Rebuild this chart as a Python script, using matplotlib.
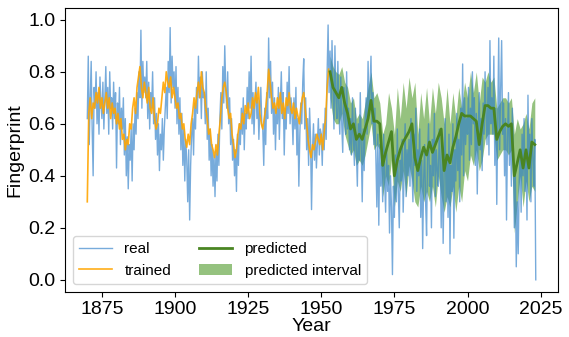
import numpy as np
import matplotlib
matplotlib.use("Agg")
import matplotlib.pyplot as plt

plt.rcParams['font.family'] = ['Liberation Sans', 'DejaVu Sans']

# Serie real (3 valores por año desde 1870)
real = [
    0.62, 0.86, 0.52, 0.70, 0.84, 0.58, 0.40, 0.74, 0.66, 0.80, 0.60, 0.72, 0.56, 0.78, 0.68, 0.62, 0.76, 0.58, 0.70, 0.82, 0.64, 0.74, 0.56, 0.80, 0.66, 0.70, 0.58, 0.76, 0.62, 0.72,
    0.43, 0.68, 0.60, 0.74, 0.52, 0.66, 0.58, 0.70, 0.48, 0.62, 0.40, 0.55, 0.35, 0.52, 0.46, 0.58, 0.38, 0.60, 0.50, 0.66, 0.56, 0.72, 0.62, 0.80, 0.70, 0.96, 0.66, 0.84, 0.72, 0.78,
    0.70, 0.84, 0.62, 0.76, 0.58, 0.72, 0.66, 0.80, 0.60, 0.70, 0.54, 0.64, 0.48, 0.60, 0.42, 0.56, 0.50, 0.62, 0.46, 0.58, 0.66, 0.74, 0.62, 0.84, 0.72, 0.97, 0.68, 0.86, 0.74, 0.80,
    0.66, 0.82, 0.60, 0.74, 0.56, 0.70, 0.50, 0.64, 0.44, 0.58, 0.38, 0.54, 0.46, 0.30, 0.50, 0.23, 0.44, 0.56, 0.62, 0.48, 0.68, 0.58, 0.74, 0.64, 0.86, 0.70, 0.78, 0.62, 0.80, 0.70,
    0.72, 0.60, 0.80, 0.54, 0.66, 0.46, 0.58, 0.40, 0.52, 0.36, 0.48, 0.32, 0.50, 0.38, 0.56, 0.44, 0.62, 0.72, 0.58, 0.82, 0.68, 0.90, 0.74, 0.66, 0.80, 0.60, 0.70, 0.52, 0.62, 0.46,
    0.54, 0.40, 0.50, 0.34, 0.56, 0.44, 0.60, 0.52, 0.66, 0.56, 0.70, 0.50, 0.64, 0.58, 0.74, 0.62, 0.80, 0.66, 0.86, 0.60, 0.72, 0.56, 0.68, 0.76, 0.62, 0.70, 0.54, 0.66, 0.74, 0.60,
    0.58, 0.44, 0.66, 0.52, 0.72, 0.62, 0.93, 0.70, 0.84, 0.64, 0.76, 0.56, 0.70, 0.50, 0.66, 0.60, 0.74, 0.54, 0.68, 0.80, 0.62, 0.72, 0.48, 0.66, 0.58, 0.76, 0.64, 0.82, 0.60, 0.70,
    0.64, 0.52, 0.70, 0.58, 0.74, 0.48, 0.62, 0.36, 0.56, 0.68, 0.60, 0.76, 0.85, 0.58, 0.70, 0.50, 0.62, 0.44, 0.66, 0.54, 0.27, 0.50, 0.60, 0.46, 0.56, 0.43, 0.52, 0.62, 0.48, 0.58,
    0.56, 0.44, 0.60, 0.50, 0.66, 0.54, 0.80, 0.98, 0.72, 0.88, 0.66, 0.92, 0.74, 0.58, 0.90, 0.70, 0.62, 0.84, 0.66, 0.56, 0.78, 0.60, 0.49, 0.74, 0.64, 0.56, 0.80, 0.58, 0.66, 0.50,
    0.62, 0.48, 0.70, 0.54, 0.44, 0.66, 0.50, 0.36, 0.60, 0.46, 0.72, 0.52, 0.30, 0.58, 0.42, 0.62, 0.70, 0.56, 0.84, 0.64, 0.74, 0.86, 0.60, 0.72, 0.52, 0.66, 0.48, 0.28, 0.56, 0.21,
    0.52, 0.36, 0.46, 0.30, 0.56, 0.38, 0.26, 0.50, 0.34, 0.44, 0.18, 0.40, 0.28, 0.02, 0.36, 0.24, 0.48, 0.30, 0.58, 0.34, 0.20, 0.46, 0.38, 0.54, 0.26, 0.42, 0.60, 0.32, 0.50, 0.40,
    0.54, 0.36, 0.62, 0.42, 0.30, 0.56, 0.44, 0.66, 0.34, 0.50, 0.40, 0.58, 0.24, 0.46, 0.12, 0.38, 0.52, 0.30, 0.17, 0.48, 0.60, 0.36, 0.44, 0.20, 0.54, 0.40, 0.64, 0.32, 0.50, 0.42,
    0.36, 0.58, 0.46, 0.20, 0.52, 0.14, 0.40, 0.62, 0.30, 0.48, 0.24, 0.56, 0.10, 0.44, 0.34, 0.60, 0.16, 0.50, 0.38, 0.64, 0.42, 0.54, 0.30, 0.66, 0.48, 0.83, 0.40, 0.70, 0.52, 0.62,
    0.56, 0.74, 0.46, 0.66, 0.52, 0.80, 0.60, 0.70, 0.44, 0.64, 0.33, 0.58, 0.72, 0.50, 0.62, 0.42, 0.68, 0.56, 0.80, 0.64, 0.52, 0.74, 0.48, 0.92, 0.60, 0.70, 0.56, 0.86, 0.44, 0.66,
    0.29, 0.62, 0.93, 0.50, 0.74, 0.92, 0.56, 0.68, 0.40, 0.62, 0.23, 0.54, 0.72, 0.44, 0.60, 0.36, 0.66, 0.50, 0.20, 0.42, 0.05, 0.30, 0.10, 0.38, 0.48, 0.26, 0.56, 0.40, 0.62, 0.34,
    0.50, 0.23, 0.71, 0.44, 0.56, 0.30, 0.62, 0.48, 0.36, 0.54, 0.00,
]

# Serie entrenada (2 valores por año, 1870 - 1952.5)
trained = [
    0.30, 0.64, 0.70, 0.62, 0.68, 0.66, 0.72, 0.68, 0.74, 0.66, 0.70, 0.64, 0.68, 0.72, 0.66, 0.70, 0.62, 0.68, 0.64, 0.66,
    0.60, 0.64, 0.58, 0.62, 0.54, 0.56, 0.50, 0.54, 0.52, 0.60, 0.58, 0.66, 0.70, 0.64, 0.74, 0.78, 0.82, 0.74, 0.70, 0.76,
    0.72, 0.68, 0.74, 0.66, 0.64, 0.70, 0.62, 0.58, 0.60, 0.66, 0.64, 0.70, 0.76, 0.72, 0.80, 0.76, 0.74, 0.78, 0.70, 0.74,
    0.70, 0.66, 0.68, 0.62, 0.64, 0.58, 0.60, 0.54, 0.51, 0.56, 0.52, 0.60, 0.64, 0.70, 0.66, 0.72, 0.76, 0.70, 0.80, 0.74,
    0.72, 0.66, 0.62, 0.56, 0.58, 0.52, 0.50, 0.47, 0.52, 0.48, 0.56, 0.62, 0.70, 0.74, 0.76, 0.72, 0.66, 0.62, 0.64, 0.56,
    0.52, 0.47, 0.50, 0.56, 0.60, 0.58, 0.64, 0.60, 0.67, 0.64, 0.68, 0.62, 0.64, 0.70, 0.66, 0.72, 0.68, 0.74, 0.64, 0.60,
    0.58, 0.62, 0.66, 0.72, 0.81, 0.76, 0.70, 0.66, 0.68, 0.64, 0.70, 0.66, 0.72, 0.64, 0.68, 0.62, 0.70, 0.67, 0.72, 0.66,
    0.64, 0.68, 0.62, 0.66, 0.63, 0.60, 0.66, 0.70, 0.72, 0.66, 0.60, 0.54, 0.50, 0.47, 0.52, 0.50, 0.53, 0.56, 0.54, 0.52,
    0.56, 0.50, 0.57, 0.62, 0.74, 0.81,
]

# Prediccion anual 1953 - 2023
predYears = list(range(1953, 2024))
predicted = [
    0.80, 0.74, 0.72, 0.70, 0.74, 0.68, 0.64, 0.58, 0.60, 0.54, 0.56, 0.54, 0.58, 0.62, 0.69, 0.61, 0.61, 0.60,
    0.44, 0.49, 0.53, 0.57, 0.40, 0.46, 0.50, 0.53, 0.55, 0.57, 0.60, 0.47, 0.42, 0.47, 0.51, 0.48, 0.53, 0.49,
    0.52, 0.55, 0.58, 0.42, 0.48, 0.45, 0.51, 0.55, 0.60, 0.64, 0.63, 0.63, 0.63, 0.62, 0.61, 0.52, 0.60, 0.67,
    0.67, 0.66, 0.66, 0.54, 0.57, 0.59, 0.60, 0.59, 0.60, 0.40, 0.45, 0.50, 0.43, 0.50, 0.43, 0.53, 0.52,
]
lower = [
    0.70, 0.62, 0.60, 0.60, 0.64, 0.56, 0.52, 0.48, 0.50, 0.44, 0.46, 0.44, 0.48, 0.54, 0.60, 0.50, 0.52, 0.50,
    0.32, 0.40, 0.36, 0.46, 0.28, 0.38, 0.34, 0.42, 0.32, 0.44, 0.38, 0.30, 0.28, 0.36, 0.30, 0.34, 0.30, 0.36,
    0.28, 0.40, 0.32, 0.26, 0.32, 0.28, 0.36, 0.26, 0.36, 0.30, 0.42, 0.38, 0.48, 0.44, 0.50, 0.42, 0.46, 0.54,
    0.56, 0.56, 0.56, 0.46, 0.48, 0.50, 0.50, 0.48, 0.50, 0.18, 0.30, 0.40, 0.28, 0.38, 0.30, 0.36, 0.34,
]
upper = [
    0.86, 0.82, 0.80, 0.79, 0.82, 0.76, 0.74, 0.68, 0.70, 0.62, 0.64, 0.62, 0.68, 0.74, 0.80, 0.70, 0.72, 0.68,
    0.56, 0.60, 0.72, 0.66, 0.56, 0.74, 0.62, 0.76, 0.66, 0.78, 0.70, 0.76, 0.56, 0.72, 0.62, 0.74, 0.60, 0.74,
    0.64, 0.76, 0.70, 0.60, 0.74, 0.60, 0.72, 0.62, 0.74, 0.66, 0.76, 0.70, 0.80, 0.72, 0.80, 0.68, 0.78, 0.76,
    0.80, 0.76, 0.78, 0.66, 0.68, 0.70, 0.70, 0.68, 0.70, 0.56, 0.62, 0.58, 0.60, 0.64, 0.58, 0.68, 0.70,
]

realYears = 1870 + np.arange(len(real)) / 3
trainedYears = 1870 + np.arange(len(trained)) / 2

fig = plt.figure(figsize=(5.69, 3.37), dpi=100)
ax = fig.add_axes([0.114, 0.135, 0.867, 0.841])

ax.plot(realYears, real, color='#2f7fc9', alpha=0.65, lw=1, label='real')
ax.plot(trainedYears, trained, color='orange', alpha=0.9, lw=1.2, label='trained')
ax.plot(predYears, predicted, color='#4a8522', lw=2, label='predicted')
ax.fill_between(predYears, lower, upper, color='#4f9a2a', alpha=0.6, lw=0, label='predicted interval')

ax.set_xlabel('Year', fontsize=14, labelpad=0)
ax.set_ylabel('Fingerprint', fontsize=14, labelpad=3)
ax.tick_params(labelsize=14)
ax.set_xticks([1875, 1900, 1925, 1950, 1975, 2000, 2025])
ax.set_yticks([0.0, 0.2, 0.4, 0.6, 0.8, 1.0])
ax.set_ylim(-0.045, 1.045)
ax.legend(loc='lower left', ncol=2, fontsize=11, handlelength=2.2, columnspacing=1.8)

fig.savefig('out.png', dpi=100)
